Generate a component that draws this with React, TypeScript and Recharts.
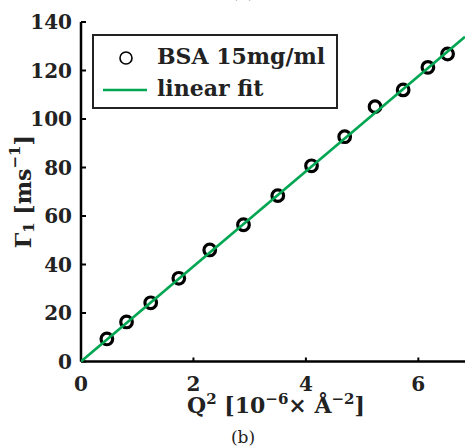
import React from 'react';
import { ScatterChart, Scatter, XAxis, YAxis, Legend, Label } from 'recharts';

// measured points: Q^2 [1e-6 A^-2] vs Gamma_1 [ms^-1]
const q2 = [0.46, 0.81, 1.24, 1.74, 2.29, 2.89, 3.5, 4.1, 4.69, 5.23, 5.73, 6.17, 6.52];
const gamma1 = [9.3, 16.3, 24.2, 34.3, 46.0, 56.4, 68.4, 80.7, 92.7, 105.1, 112.0, 121.3, 126.8];

// linear fit end points
const fitX = [0, 6.83];
const fitY = [0, 133.9];

const xTicks = [0, 2, 4, 6];
const yTicks = [0, 20, 40, 60, 80, 100, 120, 140];

const points = q2.map((x, i) => ({ x, y: gamma1[i] }));
const fit = fitX.map((x, i) => ({ x, y: fitY[i] }));

const GREEN = '#00a651';
const FONT = '"DejaVu Serif", serif';
const tickFont = { fontFamily: FONT, fontWeight: 'bold', fontSize: 20, fill: '#222' };

const Ring = (p: any) => (
  <circle cx={p.cx} cy={p.cy} r={5.8} fill="none" stroke="#000" strokeWidth={3.2} />
);

const LegendBox = () => (
  <svg width={246} height={75} style={{ display: 'block' }}>
    <rect x={1} y={1} width={244} height={73} fill="#fff" stroke="#222" strokeWidth={2} />
    <circle cx={34} cy={24} r={6} fill="none" stroke="#000" strokeWidth={1.6} />
    <text x={65} y={30} fontFamily={FONT} fontWeight="bold" fontSize={22} fill="#222">
      BSA 15mg/ml
    </text>
    <line x1={11} x2={55} y1={56} y2={56} stroke={GREEN} strokeWidth={2.5} />
    <text x={65} y={62} fontFamily={FONT} fontWeight="bold" fontSize={22} fill="#222">
      linear fit
    </text>
  </svg>
);

const YLabel = (props: any) => {
  const vb = props.viewBox;
  const cx = vb.x + 25;
  const cy = vb.y + vb.height / 2;
  return (
    <text
      x={cx}
      y={cy}
      transform={`rotate(-90 ${cx} ${cy})`}
      textAnchor="middle"
      dominantBaseline="middle"
      fontFamily={FONT}
      fontWeight="bold"
      fontSize={22}
      fill="#222"
    >
      Γ<tspan fontSize={15} dy={5}>1</tspan>
      <tspan dy={-5}> [ms</tspan>
      <tspan fontSize={15} dy={-9}>−1</tspan>
      <tspan dy={9}>]</tspan>
    </text>
  );
};

const XLabel = (props: any) => {
  const vb = props.viewBox;
  const cx = vb.x + vb.width / 2 + 3;
  const cy = vb.y + 51;
  return (
    <g>
      <text x={cx} y={cy} textAnchor="middle" fontFamily={FONT} fontWeight="bold" fontSize={22} fill="#222">
        Q<tspan fontSize={15} dy={-9}>2</tspan>
        <tspan dy={9}>  [10</tspan>
        <tspan fontSize={15} dy={-9}>−6</tspan>
        <tspan dy={9}>× Å</tspan>
        <tspan fontSize={15} dy={-9}>−2</tspan>
        <tspan dy={9}>]</tspan>
      </text>
      <text x={cx - 33} y={cy + 30} textAnchor="middle" fontFamily={FONT} fontSize={17} fill="#222">
        (b)
      </text>
      <text x={cx - 33} y={-2} textAnchor="middle" fontFamily={FONT} fontSize={17} fill="#222">
        (a)
      </text>
    </g>
  );
};

export default function App() {
  return (
    <div style={{ position: 'absolute', left: 0, top: 0, background: '#fff' }}>
      <ScatterChart width={465} height={448} margin={{ top: 22, right: 0, bottom: 0, left: 0 }}>
        <XAxis
          xAxisId="top"
          orientation="top"
          type="number"
          dataKey="x"
          domain={[0, 6.83]}
          allowDataOverflow
          ticks={xTicks}
          height={0}
          tick={false}
          tickSize={-4}
          axisLine={{ stroke: '#000', strokeWidth: 2.5 }}
          tickLine={{ stroke: '#000', strokeWidth: 2 }}
        />
        <XAxis
          type="number"
          dataKey="x"
          domain={[0, 6.83]}
          allowDataOverflow
          ticks={xTicks}
          height={86.5}
          tickSize={-4}
          tickMargin={19}
          tick={tickFont}
          axisLine={{ stroke: '#000', strokeWidth: 2.5 }}
          tickLine={{ stroke: '#000', strokeWidth: 2 }}
        >
          <Label content={XLabel} />
        </XAxis>
        <YAxis
          type="number"
          dataKey="y"
          domain={[0, 140]}
          ticks={yTicks}
          width={81}
          tickSize={-5}
          tickMargin={14}
          tick={tickFont}
          axisLine={{ stroke: '#000', strokeWidth: 2.5 }}
          tickLine={{ stroke: '#000', strokeWidth: 2 }}
        >
          <Label content={YLabel} />
        </YAxis>
        <Legend
          layout="horizontal"
          verticalAlign="middle"
          align="center"
          content={LegendBox}
          wrapperStyle={{ position: 'absolute', left: 92, top: 34, width: 246, height: 75 }}
        />
        <Scatter name="BSA 15mg/ml" data={points} shape={Ring} isAnimationActive={false} />
        <Scatter
          name="linear fit"
          data={fit}
          line={{ stroke: GREEN, strokeWidth: 2.6 }}
          lineType="joint"
          shape={() => <g />}
          isAnimationActive={false}
        />
      </ScatterChart>
    </div>
  );
}
